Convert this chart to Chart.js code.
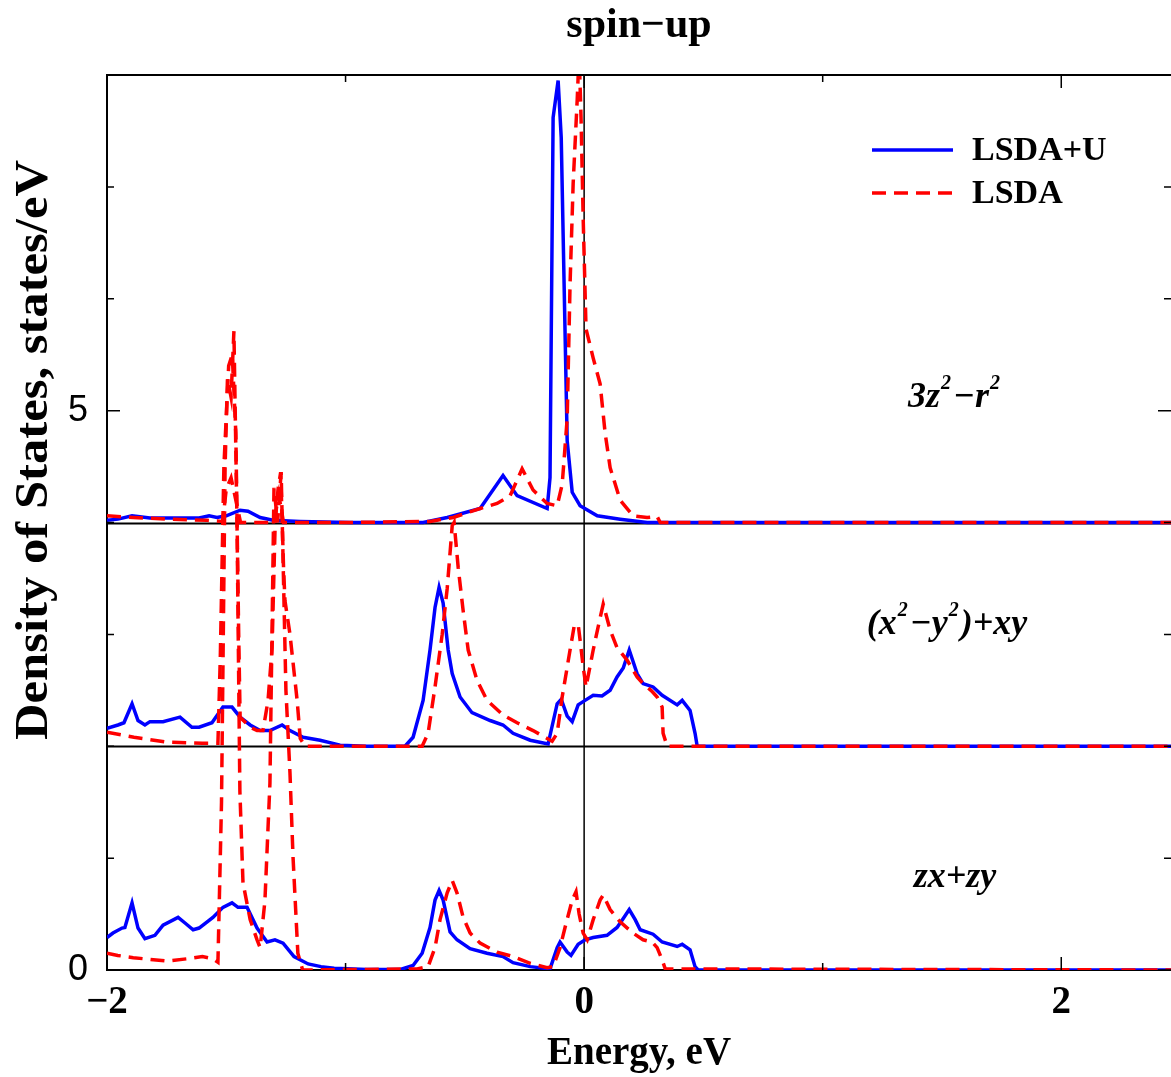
<!DOCTYPE html>
<html>
<head>
<meta charset="utf-8">
<script src="https://cdn.jsdelivr.net/npm/chart.js@4.4.0/dist/chart.umd.min.js"></script>
<style>
  html, body { margin: 0; padding: 0; background: #fff; }
  #wrap { width: 1171px; height: 1077px; }
</style>
</head>
<body>
<div id="wrap"><canvas id="dos" width="1171" height="1077"></canvas></div>
<script>
// energy (eV), density of states (states/eV)
// each panel is shifted up by its offset
const panelNames = [
    [['zx+zy', 0]],
    [['(x', 0], ['2', 1], ['−y', 0], ['2', 1], [')+xy', 0]],
    [['3z', 0], ['2', 1], ['−r', 0], ['2', 1]]
];
const panelOffsets = [0, 2, 4];
const seriesNames = ['LSDA+U', 'LSDA'];
const xTickLabels = { '-2': '−2', '0': '0', '2': '2' };
const yTickLabels = { '0': '0', '5': '5' };
const yTitle = 'Density of States, states/eV';

// zx+zy
const zxLsdaU = [[-2.0,0.29],[-1.975,0.33],[-1.937,0.375],[-1.925,0.38],[-1.895,0.60],[-1.870,0.375],[-1.841,0.28],[-1.799,0.31],[-1.765,0.40],[-1.702,0.47],[-1.673,0.42],[-1.639,0.36],[-1.614,0.375],[-1.556,0.47],[-1.514,0.56],[-1.476,0.60],[-1.451,0.56],[-1.413,0.56],[-1.371,0.375],[-1.329,0.25],[-1.296,0.27],[-1.262,0.24],[-1.216,0.12],[-1.157,0.054],[-1.103,0.03],[-1.048,0.015],[-0.910,0.005],[-0.77,0.005],[-0.717,0.04],[-0.679,0.15],[-0.646,0.38],[-0.625,0.625],[-0.608,0.71],[-0.591,0.625],[-0.562,0.34],[-0.533,0.27],[-0.478,0.19],[-0.407,0.15],[-0.340,0.12],[-0.298,0.065],[-0.226,0.03],[-0.143,0.01],[-0.113,0.20],[-0.101,0.25],[-0.071,0.16],[-0.055,0.13],[-0.025,0.23],[0.004,0.27],[0.038,0.29],[0.096,0.31],[0.138,0.38],[0.164,0.46],[0.189,0.54],[0.214,0.45],[0.235,0.36],[0.289,0.32],[0.327,0.25],[0.390,0.21],[0.411,0.23],[0.444,0.18],[0.465,0.03],[0.478,0],[2.46,0]];
const zxLsda = [[-2.0,0.15],[-1.955,0.13],[-1.89,0.11],[-1.75,0.08],[-1.665,0.10],[-1.60,0.12],[-1.556,0.10],[-1.535,0.07],[-1.52,1.5],[-1.505,4.5],[-1.495,5.29],[-1.48,5.12],[-1.468,5.71],[-1.455,4.0],[-1.443,1.6],[-1.43,0.78],[-1.40,0.45],[-1.371,0.27],[-1.358,0.2],[-1.338,0.62],[-1.317,1.67],[-1.30,4.31],[-1.285,4.0],[-1.27,4.45],[-1.25,2.5],[-1.233,1.76],[-1.22,1.0],[-1.20,0.15],[-1.18,0],[-0.70,0.01],[-0.654,0.03],[-0.625,0.2],[-0.604,0.45],[-0.574,0.69],[-0.553,0.80],[-0.533,0.69],[-0.507,0.47],[-0.478,0.33],[-0.436,0.24],[-0.365,0.16],[-0.298,0.12],[-0.226,0.06],[-0.155,0.02],[-0.130,0.03],[-0.101,0.2],[-0.080,0.38],[-0.050,0.625],[-0.034,0.70],[-0.021,0.5],[-0.004,0.33],[0.013,0.27],[0.038,0.45],[0.067,0.625],[0.080,0.67],[0.109,0.54],[0.151,0.43],[0.205,0.33],[0.247,0.27],[0.285,0.25],[0.306,0.2],[0.327,0.09],[0.340,0.01],[2.46,0]];

// (x2-y2)+xy
const xyLsdaU = [[-2.0,0.16],[-1.954,0.19],[-1.929,0.21],[-1.895,0.38],[-1.870,0.23],[-1.841,0.19],[-1.82,0.22],[-1.765,0.22],[-1.694,0.26],[-1.644,0.17],[-1.614,0.17],[-1.56,0.21],[-1.514,0.35],[-1.476,0.35],[-1.442,0.26],[-1.40,0.19],[-1.358,0.14],[-1.317,0.14],[-1.266,0.19],[-1.233,0.14],[-1.178,0.08],[-1.107,0.054],[-1.023,0.01],[-0.91,0],[-0.751,0],[-0.717,0.08],[-0.675,0.41],[-0.646,0.86],[-0.625,1.24],[-0.608,1.42],[-0.591,1.28],[-0.570,0.86],[-0.553,0.65],[-0.520,0.44],[-0.470,0.30],[-0.394,0.23],[-0.340,0.19],[-0.298,0.116],[-0.226,0.054],[-0.151,0.02],[-0.113,0.38],[-0.096,0.42],[-0.071,0.27],[-0.050,0.22],[-0.025,0.37],[0.004,0.41],[0.038,0.455],[0.075,0.45],[0.109,0.50],[0.138,0.62],[0.164,0.70],[0.189,0.86],[0.222,0.65],[0.247,0.56],[0.289,0.53],[0.327,0.455],[0.390,0.37],[0.411,0.41],[0.444,0.32],[0.465,0.116],[0.474,0],[2.46,0]];
const xyLsda = [[-2.0,0.125],[-1.887,0.08],[-1.745,0.036],[-1.60,0.027],[-1.535,0.027],[-1.525,0.8],[-1.51,2.5],[-1.49,3.4],[-1.475,3.5],[-1.46,2.8],[-1.448,1.0],[-1.442,0.26],[-1.40,0.17],[-1.371,0.14],[-1.346,0.14],[-1.325,0.41],[-1.308,0.88],[-1.295,2.0],[-1.283,2.3],[-1.272,2.45],[-1.26,1.6],[-1.254,1.3],[-1.233,1.0],[-1.203,0.41],[-1.19,0.07],[-1.17,0],[-0.679,0],[-0.654,0.116],[-0.625,0.53],[-0.595,1.0],[-0.574,1.41],[-0.553,1.97],[-0.545,2.0],[-0.528,1.6],[-0.507,1.21],[-0.486,0.86],[-0.449,0.59],[-0.407,0.41],[-0.340,0.28],[-0.281,0.21],[-0.214,0.14],[-0.155,0.07],[-0.134,0.045],[-0.113,0.116],[-0.092,0.44],[-0.059,0.86],[-0.042,1.07],[-0.025,1.09],[-0.017,0.95],[-0.004,0.71],[0.008,0.53],[0.038,0.86],[0.059,1.07],[0.080,1.27],[0.109,1.04],[0.138,0.88],[0.180,0.77],[0.222,0.62],[0.247,0.56],[0.280,0.50],[0.289,0.48],[0.306,0.44],[0.327,0.35],[0.331,0.116],[0.348,0],[2.46,0]];

// 3z2-r2
const z2LsdaU = [[-2.0,0.02],[-1.954,0.03],[-1.895,0.06],[-1.82,0.04],[-1.682,0.04],[-1.614,0.04],[-1.572,0.06],[-1.539,0.045],[-1.50,0.06],[-1.442,0.11],[-1.409,0.10],[-1.358,0.045],[-1.304,0.02],[-1.191,0.01],[-0.98,0],[-0.675,0],[-0.574,0.045],[-0.436,0.125],[-0.340,0.42],[-0.281,0.24],[-0.155,0.125],[-0.143,0.40],[-0.130,3.62],[-0.109,3.95],[-0.096,3.44],[-0.071,0.73],[-0.050,0.27],[-0.017,0.15],[0.055,0.06],[0.151,0.03],[0.264,0],[2.46,0]];
const z2Lsda = [[-2.0,0.06],[-1.89,0.045],[-1.75,0.03],[-1.58,0.02],[-1.515,0.01],[-1.50,0.3],[-1.48,0.4],[-1.46,0.2],[-1.44,0.0],[-1.30,0.0],[-1.28,0.25],[-1.26,0.0],[-0.98,0],[-0.646,0.01],[-0.549,0.045],[-0.436,0.125],[-0.365,0.17],[-0.310,0.24],[-0.260,0.48],[-0.214,0.29],[-0.155,0.17],[-0.113,0.15],[-0.092,0.34],[-0.071,0.93],[-0.059,2.13],[-0.046,3.03],[-0.029,3.78],[-0.021,4.2],[-0.013,3.62],[-0.004,2.72],[0.008,1.73],[0.038,1.47],[0.067,1.24],[0.088,0.8],[0.109,0.49],[0.151,0.2],[0.205,0.06],[0.264,0.045],[0.306,0.054],[0.319,0],[2.46,0]];

const lsdaU = [zxLsdaU, xyLsdaU, z2LsdaU];
const lsda = [zxLsda, xyLsda, z2Lsda];

const BLUE = '#0000ff';
const RED = '#ff0000';
const DASH = [14, 8];
const LW = 3.5;
const SERIF = '"Liberation Serif", "Times New Roman", serif';

const shift = (arr, off) => arr.map(p => ({ x: p[0], y: p[1] + off }));
const plainName = parts => parts.map(p => p[0]).join('');

const datasets = [];
panelOffsets.forEach((off, i) => {
    datasets.push({
        label: seriesNames[0] + ' ' + plainName(panelNames[i]),
        data: shift(lsdaU[i], off),
        borderColor: BLUE, borderWidth: LW, pointRadius: 0,
        tension: 0, order: 1
    });
    datasets.push({
        label: seriesNames[1] + ' ' + plainName(panelNames[i]),
        data: shift(lsda[i], off),
        borderColor: RED, borderWidth: LW, borderDash: DASH, pointRadius: 0,
        tension: 0, order: 0
    });
});

// text with raised small pieces, centred on cx
function drawRich(ctx, parts, cx, cy, size) {
    const big = 'italic bold ' + size + 'px ' + SERIF;
    const small = 'italic bold ' + Math.round(size * 0.55) + 'px ' + SERIF;
    let w = 0;
    parts.forEach(p => { ctx.font = p[1] ? small : big; w += ctx.measureText(p[0]).width + (p[1] ? 3 : 0); });
    let x = cx - w / 2;
    ctx.textAlign = 'left';
    ctx.textBaseline = 'alphabetic';
    parts.forEach(p => {
        ctx.font = p[1] ? small : big;
        if (p[1]) x += 1;
        ctx.fillText(p[0], x, cy + size * 0.33 - (p[1] ? size * 0.5 : 0));
        x += ctx.measureText(p[0]).width + (p[1] ? 2 : 0);
    });
}

// separators, zero line, frame, inward ticks, legend, panel names, y title
const decor = {
    id: 'decor',
    beforeDatasetsDraw(chart) {
        const { ctx, chartArea: a, scales: { x, y } } = chart;
        ctx.save();
        ctx.strokeStyle = '#000';
        ctx.lineWidth = 2;
        panelOffsets.slice(1).forEach(off => {
            const py = Math.round(y.getPixelForValue(off)) + 0.5;
            ctx.beginPath(); ctx.moveTo(a.left, py); ctx.lineTo(a.right, py); ctx.stroke();
        });
        ctx.lineWidth = 1.5;
        const px0 = x.getPixelForValue(0);
        ctx.beginPath(); ctx.moveTo(px0, a.top); ctx.lineTo(px0, a.bottom); ctx.stroke();
        ctx.restore();
    },
    afterDraw(chart) {
        const { ctx, chartArea: a, scales: { x, y } } = chart;
        ctx.save();
        ctx.strokeStyle = '#000';
        ctx.lineWidth = 2;
        ctx.beginPath(); ctx.moveTo(a.left, a.top); ctx.lineTo(a.right, a.top); ctx.stroke();

        ctx.lineWidth = 1.5;
        for (let v = 0; v <= 8; v++) {
            const len = (v in yTickLabels) ? 13 : 7;
            const py = y.getPixelForValue(v);
            ctx.beginPath();
            ctx.moveTo(a.left, py); ctx.lineTo(a.left + len, py);
            ctx.moveTo(a.right, py); ctx.lineTo(a.right - len, py);
            ctx.stroke();
        }
        for (let v = -2; v <= 2; v++) {
            const len = (String(v) in xTickLabels) ? 13 : 7;
            const px = x.getPixelForValue(v);
            ctx.beginPath();
            ctx.moveTo(px, a.bottom); ctx.lineTo(px, a.bottom - len);
            ctx.moveTo(px, a.top); ctx.lineTo(px, a.top + len);
            ctx.stroke();
        }

        // legend
        const lx0 = 872, lx1 = 953, ly = [150, 193];
        ctx.lineWidth = LW;
        ctx.strokeStyle = BLUE;
        ctx.beginPath(); ctx.moveTo(lx0, ly[0]); ctx.lineTo(lx1, ly[0]); ctx.stroke();
        ctx.strokeStyle = RED;
        ctx.setLineDash(DASH);
        ctx.beginPath(); ctx.moveTo(lx0, ly[1]); ctx.lineTo(lx1, ly[1]); ctx.stroke();
        ctx.setLineDash([]);
        ctx.fillStyle = '#000';
        ctx.font = 'bold 34px ' + SERIF;
        ctx.textAlign = 'left';
        ctx.textBaseline = 'middle';
        ctx.fillText(seriesNames[0], 972, ly[0] + 1);
        ctx.fillText(seriesNames[1], 972, ly[1] + 1);

        // panel names
        const namePos = [[955, 875], [947, 622], [955, 395]];
        panelNames.forEach((n, i) => drawRich(ctx, n, namePos[i][0], namePos[i][1], 36));

        // y axis title, sits above the axis centre as in the source figure
        ctx.font = 'bold 46px ' + SERIF;
        const tw = ctx.measureText(yTitle).width;
        ctx.translate(35, 450);
        ctx.rotate(-Math.PI / 2);
        ctx.scale(580 / tw, 1);
        ctx.textAlign = 'center';
        ctx.textBaseline = 'middle';
        ctx.fillText(yTitle, 0, 0);
        ctx.restore();
    }
};

new Chart(document.getElementById('dos'), {
    type: 'line',
    data: { datasets: datasets },
    options: {
        responsive: false,
        animation: false,
        devicePixelRatio: 1,
        layout: { padding: 0 },
        plugins: {
            legend: { display: false },
            tooltip: { enabled: false },
            title: {
                display: true,
                text: 'spin−up',
                color: '#000',
                fullSize: false,
                font: { family: SERIF, size: 42, weight: 'bold', lineHeight: 1 },
                padding: { top: 5, bottom: 28 }
            }
        },
        scales: {
            x: {
                type: 'linear',
                min: -2,
                max: 2.46,
                afterFit: s => { s.height = 107; },
                grid: { display: false, drawTicks: false },
                border: { display: true, color: '#000', width: 2 },
                ticks: {
                    stepSize: 1,
                    includeBounds: false,
                    autoSkip: false,
                    maxRotation: 0,
                    padding: 10,
                    color: '#000',
                    font: { family: SERIF, size: 39, weight: 'bold' },
                    callback: v => xTickLabels[String(v)] || ''
                },
                title: {
                    display: true,
                    text: 'Energy, eV',
                    color: '#000',
                    font: { family: SERIF, size: 39, weight: 'bold', lineHeight: 1 },
                    padding: { top: 0, bottom: 4 }
                }
            },
            y: {
                min: 0,
                max: 8,
                afterFit: s => { s.width = 107; },
                grid: { display: false, drawTicks: false },
                border: { display: true, color: '#000', width: 2 },
                ticks: {
                    stepSize: 1,
                    autoSkip: false,
                    padding: 19,
                    color: '#000',
                    font: { family: '"Liberation Sans", Arial, sans-serif', size: 36 },
                    callback: v => yTickLabels[String(v)] || ''
                },
                title: { display: false }
            }
        }
    },
    plugins: [decor]
});
</script>
</body>
</html>
